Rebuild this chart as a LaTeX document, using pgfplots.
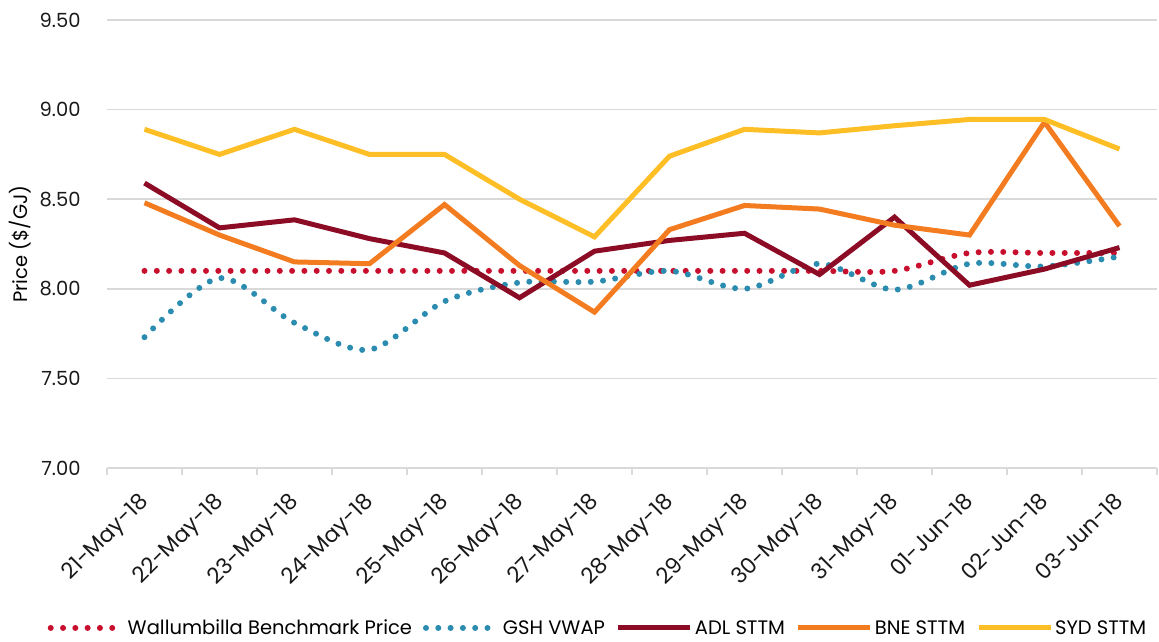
\documentclass[border=0pt]{standalone}
\usepackage{pgfplots}
\pgfplotsset{compat=1.18}
\usepackage{fontspec}
\setmainfont{Poppins}
\definecolor{wall}{HTML}{C8102E}
\definecolor{gsh}{HTML}{2B8CB0}
\definecolor{adl}{HTML}{8C0C26}
\definecolor{bne}{HTML}{F47C20}
\definecolor{syd}{HTML}{FDBE26}
\definecolor{gridgray}{HTML}{D9D9D9}
\begin{document}
\begin{tikzpicture}
\path[use as bounding box] (-107pt,-173pt) rectangle (1052pt,468pt);
\begin{axis}[
  at={(0pt,0pt)}, anchor=south west,
  scale only axis, width=1050pt, height=448pt,
  xmin=-0.5, xmax=13.5, ymin=7, ymax=9.5,
  clip=false,
  ytick={7,7.5,8,8.5,9,9.5},
  /pgf/number format/assume math mode=true,
  yticklabel={\pgfmathprintnumber[fixed,fixed zerofill,precision=2]{\tick}},
  ymajorgrids,
  grid style={color=gridgray, line width=1.5pt},
  axis x line*=bottom,
  axis y line*=left,
  y axis line style={draw=none},
  x axis line style={color=gridgray, line width=1.5pt},
  ytick style={draw=none},
  xtick={0,...,13},
  major x tick style={draw=none},
  minor xtick={-0.5,0.5,...,13.5},
  minor x tick style={color=gridgray, line width=1.5pt},
  minor tick length=7pt,
  tick align=outside,
  xticklabels={21-May-18,22-May-18,23-May-18,24-May-18,25-May-18,26-May-18,27-May-18,28-May-18,29-May-18,30-May-18,31-May-18,01-Jun-18,02-Jun-18,03-Jun-18},
  xticklabel style={rotate=45, anchor=north east, inner sep=0pt, xshift=-18pt, yshift=-8pt, font=\fontsize{22}{26}\selectfont},
  yticklabel style={inner sep=0pt, xshift=-22pt, anchor=east, font=\fontsize{19.5}{23}\selectfont},
  tick label style={text=black!90},
  ylabel={Price (\$/GJ)},
  every axis y label/.style={at={(axis description cs:-0.0829,0.5)}, rotate=90, anchor=center, font=\fontsize{19.5}{23}\selectfont},
  legend columns=5,
  legend style={at={(axis description cs:0.4676,-0.357)}, anchor=center, draw=none, fill=none,
    font=\fontsize{19.5}{23}\selectfont,
    nodes={inner sep=2pt},
    /tikz/every even column/.append style={column sep=9pt}},
  legend image code/.code={\draw[#1] (0pt,0pt) -- (72pt,0pt);},
  no markers,
]
\addplot[wall, line width=6pt, dash pattern=on 0pt off 12.3pt, line cap=round, smooth] coordinates {
(0,8.10)(1,8.10)(2,8.10)(3,8.10)(4,8.10)(5,8.10)(6,8.10)(7,8.10)(8,8.10)(9,8.10)(10,8.10)(11,8.20)(12,8.20)(13,8.20)};
\addlegendentry{Wallumbilla Benchmark Price}
\addplot[gsh, line width=6pt, dash pattern=on 0pt off 12.3pt, line cap=round, smooth] coordinates {
(0,7.73)(1,8.06)(2,7.81)(3,7.66)(4,7.93)(5,8.035)(6,8.04)(7,8.10)(8,8.00)(9,8.14)(10,7.995)(11,8.14)(12,8.125)(13,8.18)};
\addlegendentry{GSH VWAP}
\addplot[adl, line width=5pt] coordinates {
(0,8.59)(1,8.34)(2,8.385)(3,8.28)(4,8.20)(5,7.95)(6,8.21)(7,8.27)(8,8.31)(9,8.08)(10,8.40)(11,8.02)(12,8.11)(13,8.23)};
\addlegendentry{ADL STTM}
\addplot[bne, line width=5pt] coordinates {
(0,8.48)(1,8.30)(2,8.15)(3,8.14)(4,8.47)(5,8.13)(6,7.87)(7,8.33)(8,8.465)(9,8.445)(10,8.355)(11,8.30)(12,8.93)(13,8.35)};
\addlegendentry{BNE STTM}
\addplot[syd, line width=5pt] coordinates {
(0,8.89)(1,8.75)(2,8.89)(3,8.75)(4,8.75)(5,8.50)(6,8.29)(7,8.74)(8,8.89)(9,8.87)(10,8.91)(11,8.945)(12,8.945)(13,8.78)};
\addlegendentry{SYD STTM}
\end{axis}
\end{tikzpicture}
\end{document}
